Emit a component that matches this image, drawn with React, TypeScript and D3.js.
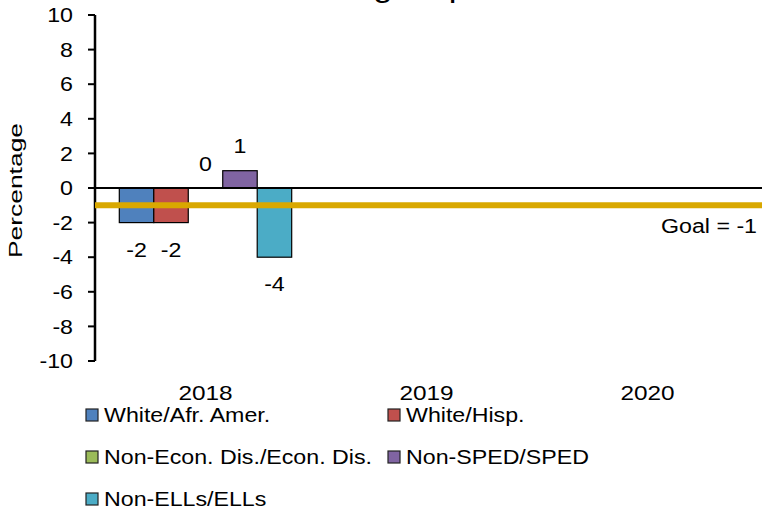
import React from 'react';
import * as d3 from 'd3';

const years = ['2018', '2019', '2020'];
const groups = [
  'White/Afr. Amer.',
  'White/Hisp.',
  'Non-Econ. Dis./Econ. Dis.',
  'Non-SPED/SPED',
  'Non-ELLs/ELLs',
];
const colors = ['#4F81BD', '#C0504D', '#9BBB59', '#8064A2', '#4BACC6'];
// one value per group for each year (null = no data yet)
const gapValues: (number | null)[][] = [
  [-2, null, null],
  [-2, null, null],
  [0, null, null],
  [1, null, null],
  [-4, null, null],
];
const yTicks = [10, 8, 6, 4, 2, 0, -2, -4, -6, -8, -10];
const goal = -1;

const W = 762;
const H = 512;
const font = 'Arial, "Liberation Sans", sans-serif';
const SX = 1.16; // the source text is a little wide

// text drawn slightly stretched horizontally, like the original
const SText: React.FC<{
  x: number;
  y: number;
  size: number;
  anchor?: 'start' | 'middle' | 'end';
  children: React.ReactNode;
}> = ({ x, y, size, anchor = 'start', children }) => (
  <text transform={`translate(${x},${y}) scale(${SX},1)`} textAnchor={anchor} fontSize={size} fill="#000">
    {children}
  </text>
);

export default function App() {
  const left = 95;
  const right = 758;
  const top = 15;
  const bottom = 361;

  const y = d3.scaleLinear().domain([-10, 10]).range([bottom, top]);
  const x0 = d3.scaleBand().domain(years).range([left, right]).paddingInner(0.22).paddingOuter(0.11);
  const x1 = d3.scaleBand().domain(groups).range([0, x0.bandwidth()]);

  const fs = 20;
  const capMid = fs * 0.358;

  return (
    <svg width={W} height={H} style={{ position: 'absolute', left: 0, top: 0 }} fontFamily={font}>
      <defs>
        <filter id="shadow" x="-5%" y="-300%" width="110%" height="700%">
          <feGaussianBlur stdDeviation="2" />
        </filter>
      </defs>
      <rect width={W} height={H} fill="#fff" />

      {/* title, clipped by the page top */}
      <SText x={W / 2} y={-3} size={30} anchor="middle">
        Closing Gaps
      </SText>

      {/* y axis */}
      <line x1={left} x2={left} y1={top} y2={bottom} stroke="#000" strokeWidth={2.5} />
      {yTicks.map((t) => (
        <g key={t}>
          <line x1={left - 7} x2={left} y1={y(t)} y2={y(t)} stroke="#000" strokeWidth={2} />
          <SText x={73} y={y(t) + capMid} size={fs} anchor="end">
            {t}
          </SText>
        </g>
      ))}
      <text
        transform={`translate(22,${(123 + 258) / 2}) rotate(-90)`}
        textAnchor="middle"
        fontSize={19}
        textLength={135}
        lengthAdjust="spacingAndGlyphs"
      >
        Percentage
      </text>

      {/* bars */}
      {groups.map((g, gi) =>
        years.map((yr, yi) => {
          const v = gapValues[gi][yi];
          if (v === null) return null;
          const bx = (x0(yr) ?? 0) + (x1(g) ?? 0);
          const bw = x1.bandwidth();
          const y0 = y(0);
          const yv = y(v);
          const labelMid = v > 0 ? yv - 25 : v < 0 ? yv + 27 : y0 - 24;
          return (
            <g key={g + yr}>
              {v !== 0 && (
                <rect
                  x={bx}
                  y={Math.min(y0, yv)}
                  width={bw}
                  height={Math.abs(yv - y0)}
                  fill={colors[gi]}
                  stroke="#000"
                  strokeWidth={1.2}
                />
              )}
              <SText x={bx + bw / 2} y={labelMid + capMid} size={fs} anchor="middle">
                {v}
              </SText>
            </g>
          );
        })
      )}

      {/* zero line */}
      <line x1={left} x2={W} y1={y(0)} y2={y(0)} stroke="#000" strokeWidth={2} />

      {/* goal line */}
      <line x1={left} x2={W} y1={y(goal) + 5} y2={y(goal) + 5} stroke="#888" strokeWidth={4} opacity={0.45} filter="url(#shadow)" />
      <line x1={left} x2={W} y1={y(goal)} y2={y(goal)} stroke="#D9A800" strokeWidth={6} />
      <SText x={757} y={y(goal) + 21 + capMid} size={fs} anchor="end">
        Goal = {goal}
      </SText>

      {/* category labels */}
      {years.map((yr) => (
        <SText key={yr} x={(x0(yr) ?? 0) + x0.bandwidth() / 2} y={400} size={21} anchor="middle">
          {yr}
        </SText>
      ))}

      {/* legend */}
      {groups.map((g, i) => {
        const col = i % 2;
        const row = Math.floor(i / 2);
        const lx = col === 0 ? 86 : 388;
        const ly = 415 + row * 42;
        return (
          <g key={g}>
            <rect x={lx} y={ly - 6} width={12} height={12} fill={colors[i]} stroke="#222" strokeWidth={1.2} />
            <SText x={lx + 18} y={ly + capMid} size={fs}>
              {g}
            </SText>
          </g>
        );
      })}
    </svg>
  );
}
